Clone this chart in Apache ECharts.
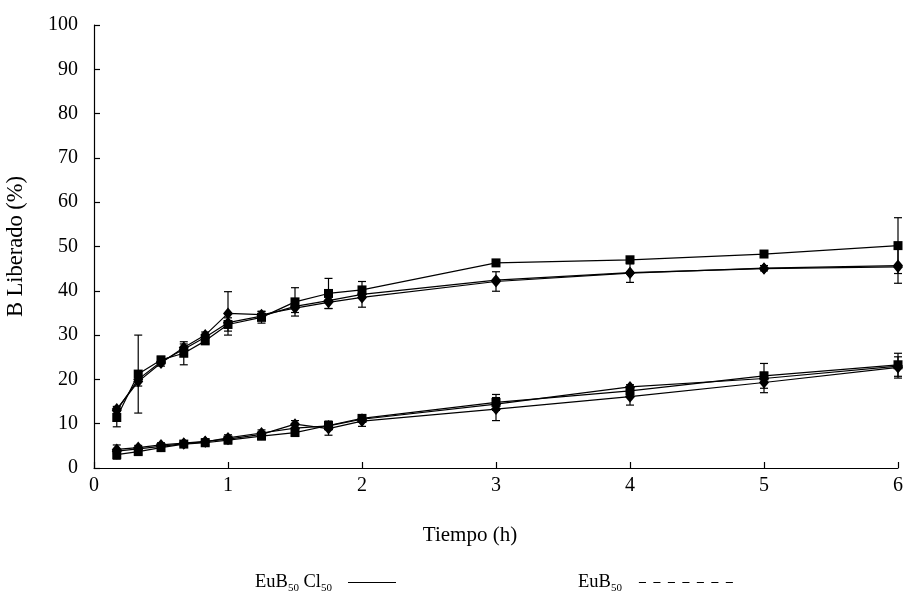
<!DOCTYPE html>
<html>
<head>
<meta charset="utf-8">
<script src="https://cdn.jsdelivr.net/npm/echarts@6/dist/echarts.min.js"></script>
<style>
  html, body { margin: 0; padding: 0; background: #fff; }
  #chart { width: 903px; height: 591px; }
</style>
</head>
<body>
<div id="chart"></div>
<script>
// Sampling times (h)
const times = [0.17, 0.33, 0.5, 0.67, 0.83, 1, 1.25, 1.5, 1.75, 2, 3, 4, 5, 6];

// EuB50 Cl50 release profiles (%)
const clSquare   = [11.4, 21.2, 24.4, 25.9, 28.7, 32.4, 34.0, 37.5, 39.4, 40.2, 46.3, 47.0, 48.3, 50.2];
const clSquareErr = [2.1, 8.8, 0.8, 2.6, 0.6, 1.5, 1.3, 3.2, 3.4, 1.9, 0.5, 0.6, 0.5, 6.3];
const clDiamond  = [13.3, 19.5, 23.7, 27.2, 30.0, 34.9, 34.6, 36.1, 37.4, 38.5, 42.1, 44.0, 45.1, 45.7];
const clDiamondErr = [0.6, 1.0, 0.7, 0.8, 0.7, 4.9, 0.8, 1.0, 1.4, 2.2, 2.2, 2.1, 0.6, 4.0];
const clThird    = [13.0, 20.0, 24.0, 26.8, 29.5, 32.8, 34.3, 36.5, 37.8, 39.2, 42.4, 44.1, 45.0, 45.4];

// EuB50 release profiles (%)
const euSquare   = [3.0, 3.7, 4.6, 5.4, 5.7, 6.3, 7.2, 8.0, 9.6, 11.2, 14.8, 17.4, 20.8, 23.3];
const euSquareErr = [1.0, 0.6, 0.6, 0.5, 0.6, 0.8, 0.8, 0.8, 1.0, 0.8, 1.8, 1.4, 2.8, 2.6];
const euDiamond  = [4.2, 4.6, 5.2, 5.6, 6.0, 6.5, 7.6, 9.9, 8.9, 10.6, 13.3, 16.1, 19.3, 22.7];
const euDiamondErr = [1.0, 0.5, 0.5, 0.5, 0.6, 1.0, 1.0, 0.8, 1.5, 1.2, 2.6, 1.9, 2.3, 2.4];
const euThird    = [3.8, 4.3, 4.9, 5.5, 5.9, 6.8, 7.9, 9.0, 9.5, 11.0, 14.4, 18.3, 20.2, 23.0];

// Axis ticks
const xTicks = { min: 0, max: 6, interval: 1 };
const yTicks = { min: 0, max: 100, interval: 10 };

const NAME_CL = 'EuB50 Cl50';
const NAME_EU = 'EuB50';
const FONT = '"Liberation Serif", "DejaVu Serif", serif';

const pairs = (vals) => times.map((t, i) => [t, vals[i]]);

function lineSeries(name, vals, symbol, size) {
  return {
    name: name,
    type: 'line',
    data: pairs(vals),
    symbol: symbol,
    symbolSize: size,
    showSymbol: true,
    lineStyle: { color: '#000', width: 1.2 },
    itemStyle: { color: '#000' },
    emphasis: { disabled: true },
    z: 3
  };
}

// Vertical error bars with small caps
function errorSeries(name, vals, errs) {
  return {
    name: name,
    type: 'custom',
    data: times.map((t, i) => [t, vals[i] - errs[i], vals[i] + errs[i]]),
    renderItem: function (params, api) {
      const lo = api.coord([api.value(0), api.value(1)]);
      const hi = api.coord([api.value(0), api.value(2)]);
      const cap = 4;
      const st = { stroke: '#000', lineWidth: 1.2 };
      return {
        type: 'group',
        children: [
          { type: 'line', shape: { x1: lo[0], y1: lo[1], x2: hi[0], y2: hi[1] }, style: st },
          { type: 'line', shape: { x1: lo[0] - cap, y1: lo[1], x2: lo[0] + cap, y2: lo[1] }, style: st },
          { type: 'line', shape: { x1: hi[0] - cap, y1: hi[1], x2: hi[0] + cap, y2: hi[1] }, style: st }
        ]
      };
    },
    itemStyle: { color: '#000' },
    silent: true,
    z: 2
  };
}

const richText = {
  n: { fontFamily: FONT, fontSize: 18.5, color: '#000' },
  s: { fontFamily: FONT, fontSize: 11, color: '#000', verticalAlign: 'bottom', padding: [11, 0, 0, 0] }
};

// Legend sample strokes: a solid bar and a row of dashes
const solidIcon = 'path://M0,0H48V1H0Z';
let dashPath = 'path://';
for (let k = 0; k < 7; k++) {
  const x0 = k * 14.3;
  dashPath += 'M' + x0 + ',0H' + (x0 + 7) + 'V1H' + x0 + 'Z';
}

const chart = echarts.init(document.getElementById('chart'), null, { renderer: 'canvas' });
chart.setOption({
  animation: false,
  backgroundColor: '#fff',
  textStyle: { fontFamily: FONT, color: '#000' },
  grid: { left: 94, right: 5, top: 25, bottom: 123, containLabel: false, outerBoundsMode: 'none' },
  legend: [
    {
      data: [{ name: NAME_CL, icon: solidIcon }],
      left: 250, top: 568,
      align: 'right',
      itemWidth: 48, itemHeight: 1.3, itemGap: 0,
      selectedMode: false,
      formatter: () => '{n|EuB}{s|50}{n| Cl}{s|50}',
      textStyle: { rich: richText, padding: [0, 11, 0, 0] }
    },
    {
      data: [{ name: NAME_EU, icon: dashPath }],
      left: 573, top: 568,
      align: 'right',
      itemWidth: 94, itemHeight: 1.3, itemGap: 0,
      selectedMode: false,
      formatter: () => '{n|EuB}{s|50}',
      textStyle: { rich: richText, padding: [0, 12, 0, 0] }
    }
  ],
  xAxis: {
    type: 'value',
    min: xTicks.min, max: xTicks.max, interval: xTicks.interval,
    name: 'Tiempo (h)',
    nameLocation: 'middle',
    nameGap: 57,
    nameTextStyle: { fontFamily: FONT, fontSize: 21, color: '#000', padding: [0, 52, 0, 0] },
    axisLine: { show: true, onZero: false, lineStyle: { color: '#000', width: 1.2 } },
    axisTick: { show: true, inside: true, length: 6, lineStyle: { color: '#000', width: 1.2 } },
    axisLabel: { fontFamily: FONT, fontSize: 20, color: '#000', margin: 8 },
    splitLine: { show: false }
  },
  yAxis: {
    type: 'value',
    min: yTicks.min, max: yTicks.max, interval: yTicks.interval,
    name: 'B Liberado (%)',
    nameLocation: 'middle',
    nameGap: 66,
    nameTextStyle: { fontFamily: FONT, fontSize: 22.5, color: '#000' },
    axisLine: { show: true, lineStyle: { color: '#000', width: 1.2 } },
    axisTick: { show: true, inside: true, length: 6, lineStyle: { color: '#000', width: 1.2 } },
    axisLabel: { fontFamily: FONT, fontSize: 20, color: '#000', margin: 16 },
    splitLine: { show: false }
  },
  series: [
    errorSeries(NAME_CL, clSquare, clSquareErr),
    errorSeries(NAME_CL, clDiamond, clDiamondErr),
    errorSeries(NAME_EU, euSquare, euSquareErr),
    errorSeries(NAME_EU, euDiamond, euDiamondErr),
    lineSeries(NAME_CL, clThird, 'diamond', [10, 12]),
    lineSeries(NAME_CL, clDiamond, 'diamond', [10, 12]),
    lineSeries(NAME_CL, clSquare, 'rect', 9),
    lineSeries(NAME_EU, euThird, 'diamond', [10, 12]),
    lineSeries(NAME_EU, euDiamond, 'diamond', [10, 12]),
    lineSeries(NAME_EU, euSquare, 'rect', 9)
  ]
});
</script>
</body>
</html>
